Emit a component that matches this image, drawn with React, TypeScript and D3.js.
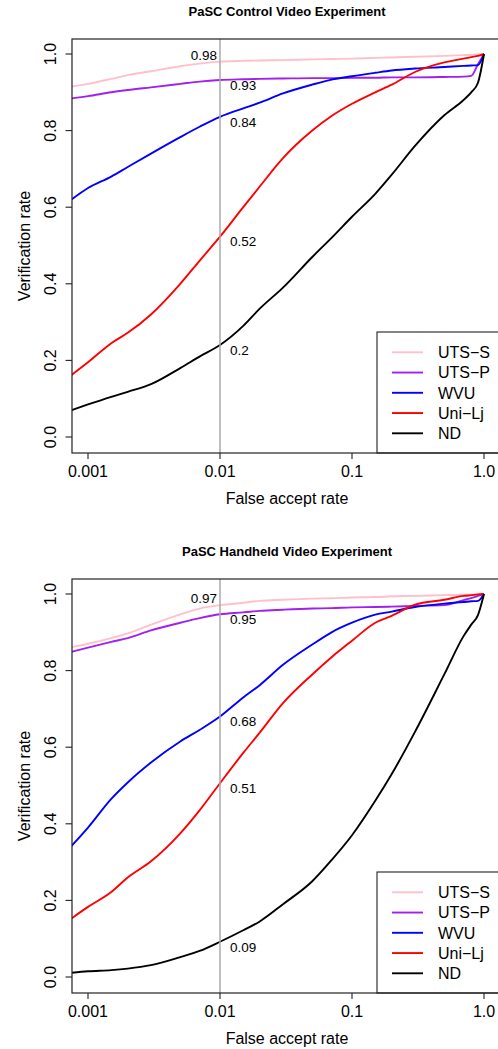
import React from "react";
import * as d3 from "d3";

// false accept rate grid used to read the curves off the plot
const far = [
  0.00075, 0.001, 0.0015, 0.002, 0.003, 0.005, 0.007, 0.01, 0.015, 0.02, 0.03,
  0.05, 0.07, 0.1, 0.15, 0.2, 0.3, 0.5, 0.7, 0.8, 0.9, 1.0,
];

const seriesNames = ["UTS\u2212S", "UTS\u2212P", "WVU", "Uni\u2212Lj", "ND"];
const seriesColors = ["#FFC0CB", "#A020F0", "#0000FF", "#FF0000", "#000000"];

// PaSC control video experiment
const controlUtsS = [0.915, 0.922, 0.935, 0.945, 0.955, 0.968, 0.975, 0.98, 0.982, 0.983, 0.984, 0.986, 0.987, 0.988, 0.99, 0.991, 0.993, 0.995, 0.997, 0.998, 0.999, 1.0];
const controlUtsP = [0.884, 0.89, 0.9, 0.906, 0.913, 0.922, 0.928, 0.932, 0.934, 0.935, 0.936, 0.937, 0.937, 0.938, 0.938, 0.939, 0.939, 0.94, 0.941, 0.943, 0.973, 1.0];
const controlWvu = [0.62, 0.65, 0.68, 0.705, 0.74, 0.783, 0.81, 0.836, 0.858, 0.873, 0.897, 0.92, 0.933, 0.942, 0.951, 0.957, 0.962, 0.966, 0.969, 0.97, 0.971, 1.0];
const controlUniLj = [0.162, 0.195, 0.245, 0.272, 0.32, 0.4, 0.46, 0.523, 0.6, 0.654, 0.728, 0.8, 0.838, 0.87, 0.9, 0.92, 0.953, 0.978, 0.988, 0.992, 0.995, 1.0];
const controlNd = [0.07, 0.085, 0.105, 0.118, 0.138, 0.18, 0.21, 0.24, 0.29, 0.335, 0.39, 0.47, 0.52, 0.575, 0.635, 0.685, 0.76, 0.84, 0.88, 0.9, 0.925, 1.0];
const controlLabels = ["0.98", "0.93", "0.84", "0.52", "0.2"];

// PaSC handheld video experiment
const handheldUtsS = [0.861, 0.87, 0.885, 0.897, 0.92, 0.947, 0.962, 0.971, 0.977, 0.982, 0.985, 0.988, 0.989, 0.991, 0.992, 0.994, 0.995, 0.997, 0.998, 0.998, 0.999, 1.0];
const handheldUtsP = [0.849, 0.86, 0.875, 0.885, 0.905, 0.925, 0.937, 0.947, 0.952, 0.956, 0.959, 0.962, 0.963, 0.965, 0.966, 0.967, 0.969, 0.971, 0.984, 0.989, 0.995, 1.0];
const handheldWvu = [0.342, 0.39, 0.465, 0.508, 0.56, 0.615, 0.645, 0.68, 0.73, 0.762, 0.815, 0.868, 0.9, 0.925, 0.946, 0.954, 0.966, 0.975, 0.979, 0.981, 0.982, 1.0];
const handheldUniLj = [0.153, 0.183, 0.222, 0.26, 0.302, 0.375, 0.435, 0.506, 0.585, 0.638, 0.715, 0.79, 0.835, 0.878, 0.925, 0.943, 0.972, 0.985, 0.995, 0.997, 0.999, 1.0];
const handheldNd = [0.011, 0.015, 0.018, 0.022, 0.031, 0.052, 0.068, 0.092, 0.122, 0.145, 0.19, 0.25, 0.305, 0.37, 0.46, 0.53, 0.64, 0.79, 0.89, 0.92, 0.945, 1.0];
const handheldLabels = ["0.97", "0.95", "0.68", "0.51", "0.09"];

const xTicks = [0.001, 0.01, 0.1, 1];
const xTickLabels = ["0.001", "0.01", "0.1", "1.0"];
const yTicks = [0, 0.2, 0.4, 0.6, 0.8, 1.0];
const yTickLabels = ["0.0", "0.2", "0.4", "0.6", "0.8", "1.0"];
const markFar = 0.01;

const font = "'Liberation Sans', Arial, Helvetica, sans-serif";

function Panel({ top, title, series, labels, id }) {
  const x = d3.scaleLog().domain([0.001, 1]).range([88, 484]);
  const y = d3.scaleLinear().domain([0, 1]).range([top + 437, top + 54]);
  const left = 72;
  const right = 502;
  const boxTop = top + 39;
  const boxBottom = top + 453;
  const cx = (left + right) / 2;

  const line = d3
    .line<number>()
    .x((_, i) => x(far[i]))
    .y((d) => y(d))
    .curve(d3.curveMonotoneX);

  const markIdx = far.indexOf(markFar);

  return (
    <g fontFamily={font}>
      <defs>
        <clipPath id={id}>
          <rect x={left} y={boxTop} width={right - left} height={boxBottom - boxTop} />
        </clipPath>
      </defs>
      <text x={cx} y={top + 16} textAnchor="middle" fontWeight="bold" fontSize={13}>
        {title}
      </text>

      <g clipPath={`url(#${id})`}>
        {series.map((s, i) => (
          <path key={i} d={line(s)} fill="none" stroke={seriesColors[i]} strokeWidth={1.9} strokeLinejoin="round" />
        ))}
      </g>
      <line x1={x(markFar)} x2={x(markFar)} y1={boxTop} y2={boxBottom} stroke="#aaaaaa" strokeWidth={1.5} />

      {labels.map((t, i) => {
        const v = series[i][markIdx];
        const isLeft = i === 0;
        const cy = isLeft ? y(v) - 6.5 : y(v) + 5;
        return (
          <text
            key={t + i}
            x={isLeft ? x(markFar) - 3 : x(markFar) + 10}
            y={cy + 4.8}
            textAnchor={isLeft ? "end" : "start"}
            fontSize={13.5}
          >
            {t}
          </text>
        );
      })}

      {/* legend */}
      <rect x={377} y={top + 332} width={130} height={boxBottom - (top + 332)} fill="white" stroke="#222" strokeWidth={1.1} />
      {seriesNames.map((n, i) => {
        const ry = top + 352.3 + i * 20.25;
        return (
          <g key={n}>
            <line x1={392} x2={423} y1={ry} y2={ry} stroke={seriesColors[i]} strokeWidth={1.9} />
            <text x={438} y={ry + 5.7} fontSize={16}>
              {n}
            </text>
          </g>
        );
      })}

      <rect x={left} y={boxTop} width={right - left} height={boxBottom - boxTop} fill="none" stroke="#222" strokeWidth={1.2} />

      {xTicks.map((t, i) => (
        <g key={t}>
          <line x1={x(t)} x2={x(t)} y1={boxBottom} y2={boxBottom + 6} stroke="#222" strokeWidth={1.1} />
          <text x={x(t)} y={top + 477} textAnchor="middle" fontSize={16}>
            {xTickLabels[i]}
          </text>
        </g>
      ))}
      {yTicks.map((t, i) => (
        <g key={t}>
          <line x1={left - 6.5} x2={left} y1={y(t)} y2={y(t)} stroke="#222" strokeWidth={1.1} />
          <text transform={`translate(55.5,${y(t)}) rotate(-90)`} textAnchor="middle" fontSize={16}>
            {yTickLabels[i]}
          </text>
        </g>
      ))}

      <text x={cx} y={top + 504} textAnchor="middle" fontSize={16}>
        False accept rate
      </text>
      <text transform={`translate(29.5,${(boxTop + boxBottom) / 2}) rotate(-90)`} textAnchor="middle" fontSize={16}>
        Verification rate
      </text>
    </g>
  );
}

export default function App() {
  return (
    <svg
      width={498}
      height={1049}
      style={{ position: "absolute", left: 0, top: 0, background: "white" }}
    >
      <rect width={498} height={1049} fill="white" />
      <Panel
        id="clip-control"
        top={0}
        title="PaSC Control Video Experiment"
        series={[controlUtsS, controlUtsP, controlWvu, controlUniLj, controlNd]}
        labels={controlLabels}
      />
      <Panel
        id="clip-handheld"
        top={540}
        title="PaSC Handheld Video Experiment"
        series={[handheldUtsS, handheldUtsP, handheldWvu, handheldUniLj, handheldNd]}
        labels={handheldLabels}
      />
    </svg>
  );
}
